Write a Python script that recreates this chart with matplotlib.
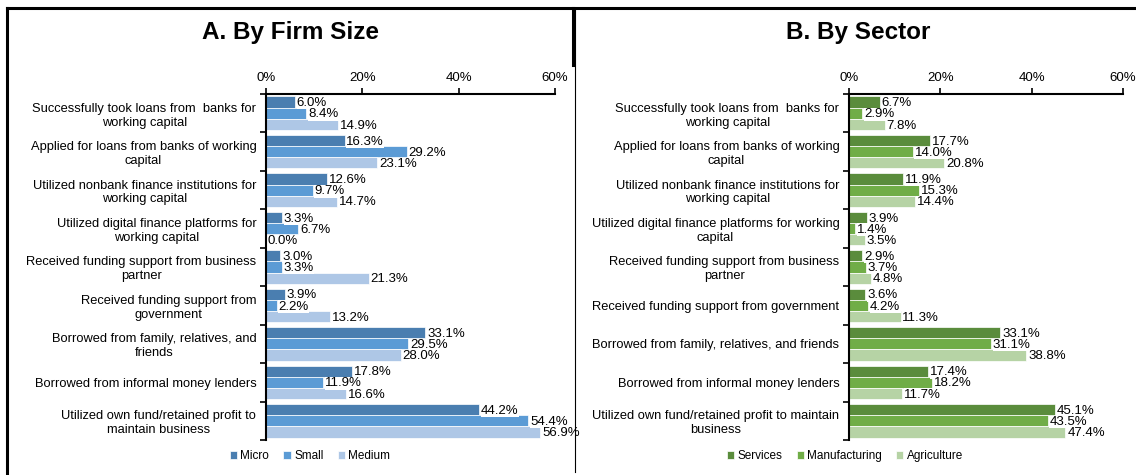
import matplotlib.pyplot as plt
import numpy as np
from matplotlib.lines import Line2D

plt.rcParams['font.family'] = ['Liberation Sans', 'DejaVu Sans']

cats_a = [
    'Successfully took loans from  banks for\nworking capital',
    'Applied for loans from banks of working\ncapital',
    'Utilized nonbank finance institutions for\nworking capital',
    'Utilized digital finance platforms for\nworking capital',
    'Received funding support from business\npartner',
    'Received funding support from\ngovernment',
    'Borrowed from family, relatives, and\nfriends',
    'Borrowed from informal money lenders',
    'Utilized own fund/retained profit to\nmaintain business',
]
cats_b = [
    'Successfully took loans from  banks for\nworking capital',
    'Applied for loans from banks of working\ncapital',
    'Utilized nonbank finance institutions for\nworking capital',
    'Utilized digital finance platforms for working\ncapital',
    'Received funding support from business\npartner',
    'Received funding support from government',
    'Borrowed from family, relatives, and friends',
    'Borrowed from informal money lenders',
    'Utilized own fund/retained profit to maintain\nbusiness',
]

micro = [6.0, 16.3, 12.6, 3.3, 3.0, 3.9, 33.1, 17.8, 44.2]
small = [8.4, 29.2, 9.7, 6.7, 3.3, 2.2, 29.5, 11.9, 54.4]
medium = [14.9, 23.1, 14.7, 0.0, 21.3, 13.2, 28.0, 16.6, 56.9]

services = [6.7, 17.7, 11.9, 3.9, 2.9, 3.6, 33.1, 17.4, 45.1]
manufacturing = [2.9, 14.0, 15.3, 1.4, 3.7, 4.2, 31.1, 18.2, 43.5]
agriculture = [7.8, 20.8, 14.4, 3.5, 4.8, 11.3, 38.8, 11.7, 47.4]

fig = plt.figure(figsize=(11.36, 4.75), dpi=100)


def panel(rect, cats, series, names, colors, title, title_x, leg_x):
    ax = fig.add_axes(rect)
    n = len(cats)
    y = np.arange(n)
    h = 0.29
    for i, (vals, name, col) in enumerate(zip(series, names, colors)):
        yy = y - h + i * h
        ax.barh(yy, vals, height=h, color=col, edgecolor='white', linewidth=0.5, label=name)
        for yv, v in zip(yy, vals):
            ax.text(v + 0.4, yv + 0.03, f'{v:.1f}%', va='center', ha='left', fontsize=9.5,
                    bbox=dict(facecolor='white', edgecolor='none', pad=0.2))
    ax.set_xlim(0, 60)
    ax.set_ylim(n - 0.5, -0.5)
    ax.set_xticks([0, 20, 40, 60])
    ax.set_xticklabels(['0%', '20%', '40%', '60%'], fontsize=9.5)
    ax.xaxis.tick_top()
    ax.tick_params(axis='x', direction='out', length=4, width=1.2, pad=3)
    ax.set_yticks(y)
    ax.set_yticklabels(cats, fontsize=9.3, multialignment='center')
    ax.tick_params(axis='y', which='major', length=0, pad=7)
    ax.set_yticks(np.arange(n + 1) - 0.5, minor=True)
    ax.tick_params(axis='y', which='minor', direction='out', length=4, width=1.2)
    for s in ['right', 'bottom']:
        ax.spines[s].set_visible(False)
    for s in ['left', 'top']:
        ax.spines[s].set_linewidth(1.5)
    fig.text(title_x, 1 - 33 / 475, title, ha='center', va='center', fontsize=17.5, fontweight='bold')
    fig.legend(*ax.get_legend_handles_labels(), loc='center', bbox_to_anchor=(leg_x, 1 - 456 / 475),
               ncol=3, frameon=False, fontsize=8.5, handlelength=0.6, handleheight=0.6,
               handletextpad=0.3, columnspacing=1.2)
    return ax


panel([266 / 1136, 1 - 440 / 475, 289 / 1136, 346 / 475], cats_a,
      [micro, small, medium], ['Micro', 'Small', 'Medium'],
      ['#4A7EB0', '#5B9BD5', '#AEC7E6'], 'A. By Firm Size', 290 / 1136, 310 / 1136)
panel([849 / 1136, 1 - 440 / 475, 274 / 1136, 346 / 475], cats_b,
      [services, manufacturing, agriculture], ['Services', 'Manufacturing', 'Agriculture'],
      ['#5A8C3C', '#70AD47', '#B6D3A5'], 'B. By Sector', 858 / 1136, 845 / 1136)

# panel frames
W, H = 1136, 475
def fline(xs, ys, lw):
    fig.add_artist(Line2D([x / W for x in xs], [1 - v / H for v in ys], color='black', linewidth=lw))

fline([7, 1136], [8, 8], 2.2)
fline([7, 7], [8, 475], 2.2)
fline([575, 575], [8, 472], 0.8)
fline([573, 573], [8, 65], 2.2)

fig.savefig('out.png', dpi=100)
